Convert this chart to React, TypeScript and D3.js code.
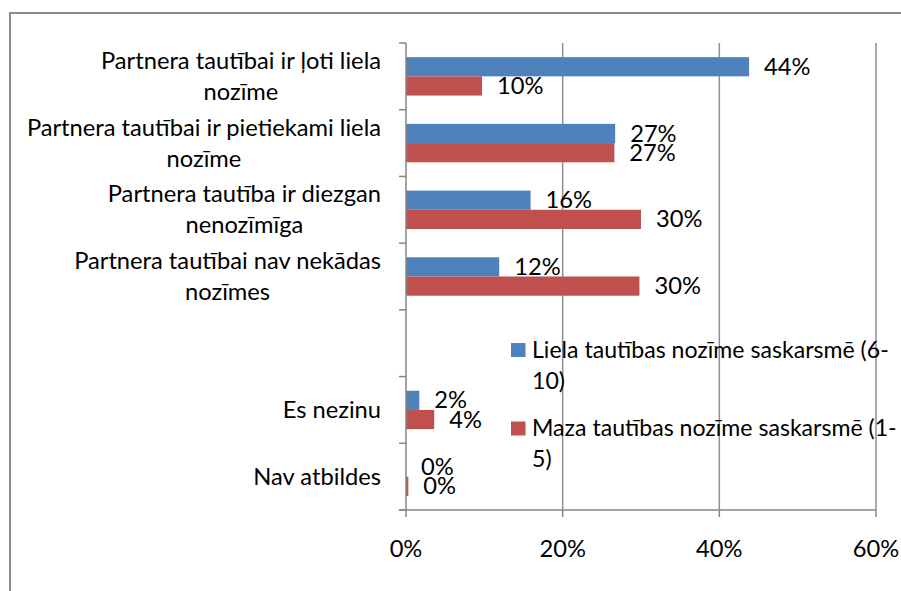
import React, { useLayoutEffect, useRef } from 'react';
import * as d3 from 'd3';

// category labels, already wrapped the way the original chart wraps them
const categoryLines: string[][] = [
  ['Partnera tautībai ir ļoti liela', 'nozīme'],
  ['Partnera tautībai ir pietiekami liela', 'nozīme'],
  ['Partnera tautība ir diezgan', 'nenozīmīga'],
  ['Partnera tautībai nav nekādas', 'nozīmes'],
  [],
  ['Es nezinu'],
  ['Nav atbildes'],
];

const seriesKeys = ['liela', 'maza'];
const seriesLegend: string[][] = [
  ['Liela tautības nozīme saskarsmē (6-', '10)'],
  ['Maza tautības nozīme saskarsmē (1-', '5)'],
];
const seriesColors = ['#4F81BD', '#C0504D'];

const lielaValues: (number | null)[] = [0.438, 0.267, 0.159, 0.119, null, 0.017, 0];
const mazaValues: (number | null)[] = [0.097, 0.266, 0.3, 0.298, null, 0.036, 0.003];

const xTicks = [0, 0.2, 0.4, 0.6];

const W = 901;
const H = 591;
const FONT = 'Lato, "DejaVu Sans", sans-serif';
const FS = 23.7;
const LEGEND_FS = 23.1;
const LINE = 31;

const plot = { left: 406, right: 876, top: 43, bottom: 510 };
const labelRight = 381;

const App = () => {
  const labelsRef = useRef<SVGGElement>(null);

  const x = d3.scaleLinear().domain([0, 0.6]).range([plot.left, plot.right]);
  const y = d3
    .scaleBand<number>()
    .domain(categoryLines.map((_, i) => i))
    .range([plot.top, plot.bottom])
    .padding(0);
  const inner = d3
    .scaleBand<string>()
    .domain(seriesKeys)
    .range([0, y.bandwidth()])
    .paddingInner(0)
    .paddingOuter(0.737);
  const fmt = d3.format('.0%');
  const series = [lielaValues, mazaValues];

  // centre the wrapped lines of every label on each other, block right-aligned
  useLayoutEffect(() => {
    if (!labelsRef.current) return;
    d3.select(labelsRef.current)
      .selectAll<SVGTextElement, unknown>('text')
      .each(function () {
        const tspans = Array.from(this.querySelectorAll('tspan')) as SVGTSpanElement[];
        const maxW = d3.max(tspans, t => t.getComputedTextLength()) || 0;
        tspans.forEach(t => t.setAttribute('x', String(labelRight - maxW / 2)));
      });
  }, []);

  const boundaries = d3.range(categoryLines.length + 1).map(i => plot.top + i * y.step());

  return (
    <svg
      width={W}
      height={H}
      style={{ position: 'absolute', left: 0, top: 0, background: '#fff' }}
      fontFamily={FONT}
      fontSize={FS}
    >
      <rect x={10} y={13} width={W + 20} height={H + 20} fill="#fff" stroke="#8c8c8c" strokeWidth={2} />

      {/* gridlines */}
      {xTicks.slice(1).map(t => (
        <line key={t} x1={x(t)} x2={x(t)} y1={plot.top} y2={plot.bottom} stroke="#8e8e8e" strokeWidth={1.5} />
      ))}

      {/* bars */}
      {series.map((vals, s) =>
        vals.map((v, i) =>
          v == null ? null : (
            <rect
              key={`${s}-${i}`}
              x={x(0)}
              y={(y(i) as number) + (inner(seriesKeys[s]) as number)}
              width={x(v) - x(0)}
              height={inner.bandwidth()}
              fill={seriesColors[s]}
            />
          )
        )
      )}

      {/* data labels */}
      {series.map((vals, s) =>
        vals.map((v, i) =>
          v == null ? null : (
            <text
              key={`l${s}-${i}`}
              x={x(v) + 15}
              y={(y(i) as number) + (inner(seriesKeys[s]) as number) + inner.bandwidth() / 2}
              dy="0.34em"
              fill="#000"
            >
              {fmt(v)}
            </text>
          )
        )
      )}

      {/* axes */}
      <line x1={plot.left} x2={plot.left} y1={plot.top} y2={plot.bottom} stroke="#868686" strokeWidth={1.5} />
      {boundaries.map((b, i) => (
        <line key={i} x1={plot.left - 7} x2={plot.left} y1={b} y2={b} stroke="#868686" strokeWidth={1.5} />
      ))}
      <line x1={plot.left - 7} x2={plot.right} y1={plot.bottom} y2={plot.bottom} stroke="#868686" strokeWidth={1.5} />
      {xTicks.map(t => (
        <g key={t}>
          <line x1={x(t)} x2={x(t)} y1={plot.bottom} y2={plot.bottom + 7} stroke="#868686" strokeWidth={1.5} />
          <text x={x(t)} y={plot.bottom + 47} textAnchor="middle" fill="#000">
            {fmt(t)}
          </text>
        </g>
      ))}

      {/* category labels */}
      <g ref={labelsRef}>
        {categoryLines.map((lines, i) => {
          const cy = (y(i) as number) + y.bandwidth() / 2;
          return (
            <text key={i} textAnchor="middle" fill="#000">
              {lines.map((ln, j) => (
                <tspan key={j} x={labelRight} y={cy + (j - (lines.length - 1) / 2) * LINE} dy="0.34em">
                  {ln}
                </tspan>
              ))}
            </text>
          );
        })}
      </g>

      {/* legend */}
      {seriesLegend.map((lines, s) => {
        const top = 343 + s * 78.5;
        return (
          <g key={s} fontSize={LEGEND_FS}>
            <rect x={511} y={top} width={14.5} height={14} fill={seriesColors[s]} />
            {lines.map((ln, j) => (
              <text key={j} x={532} y={top + 7 + j * LINE} dy="0.34em" fill="#000">
                {ln}
              </text>
            ))}
          </g>
        );
      })}
    </svg>
  );
};

export default App;
